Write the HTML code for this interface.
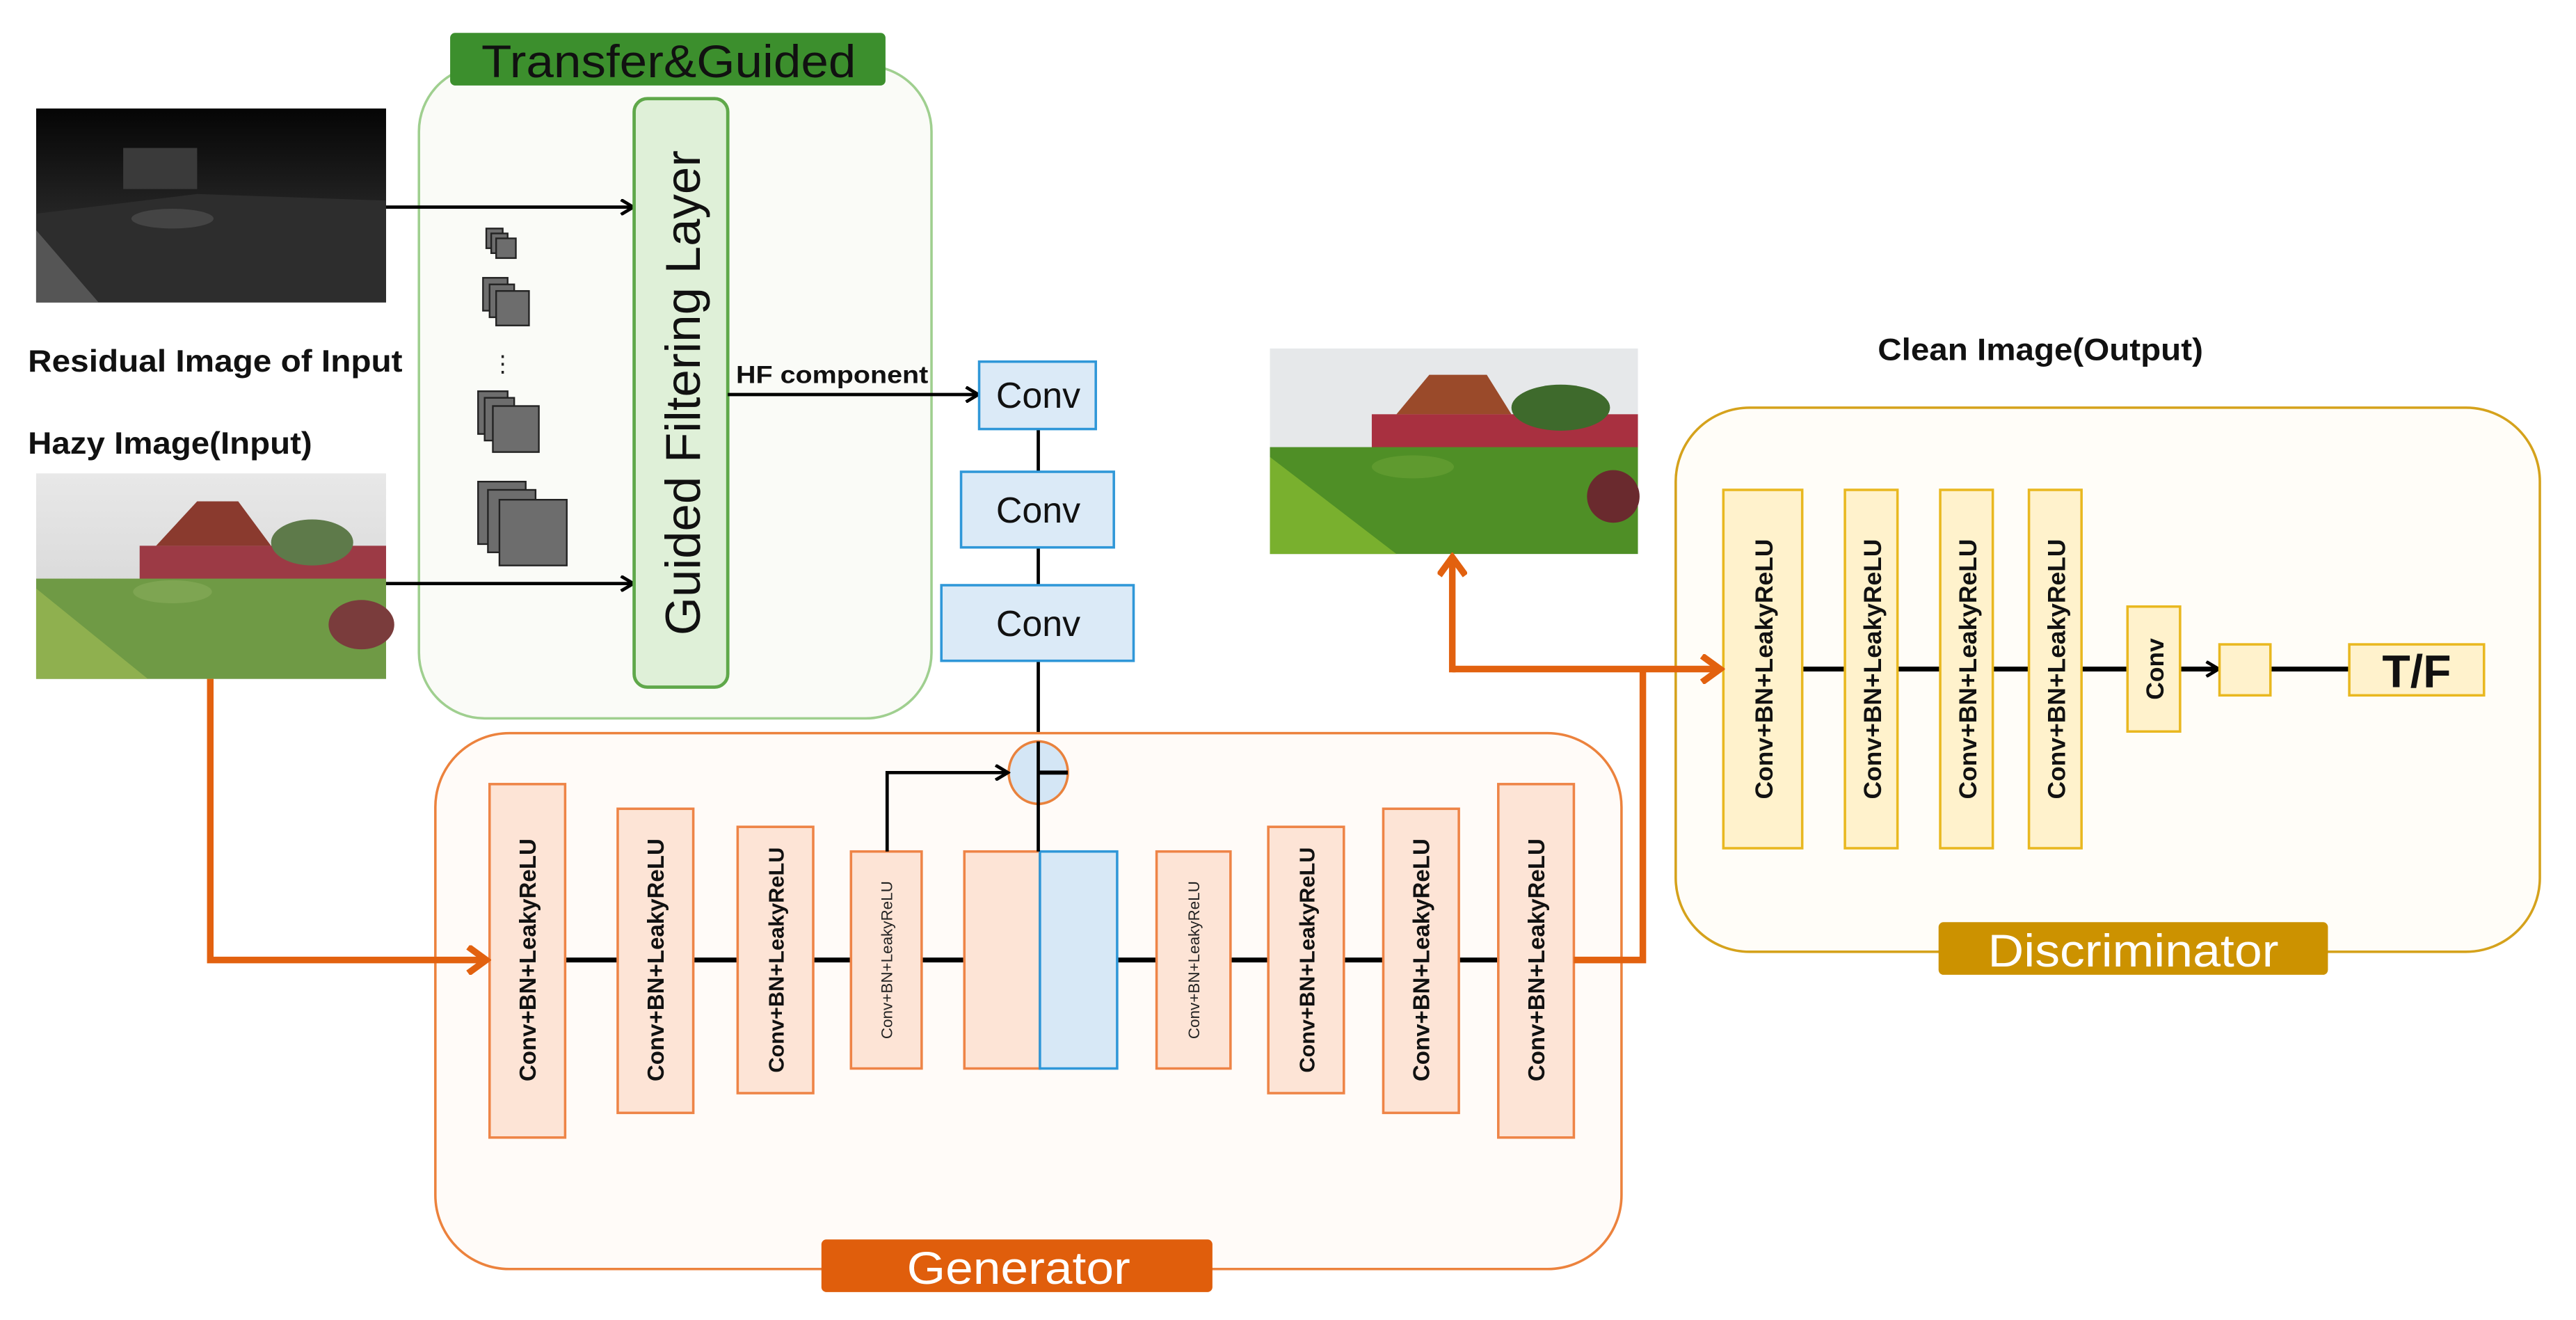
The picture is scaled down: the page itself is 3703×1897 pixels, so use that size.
<!DOCTYPE html>
<html><head><meta charset="utf-8"><style>html,body{margin:0;padding:0;background:#fff}svg{display:block}</style></head>
<body>
<svg width="3703" height="1897" viewBox="0 0 1568 803" preserveAspectRatio="none" xmlns="http://www.w3.org/2000/svg" font-family="Liberation Sans, Arial, sans-serif">
<defs>
<marker id="ab" markerWidth="10" markerHeight="10" refX="8" refY="5" orient="auto" markerUnits="userSpaceOnUse"><path d="M1,0.5 L8.5,5 L1,9.5" fill="none" stroke="#000" stroke-width="2"/></marker>
<marker id="ao" markerWidth="16" markerHeight="18" refX="13" refY="9" orient="auto" markerUnits="userSpaceOnUse"><path d="M2,1 L13,9 L2,17" fill="none" stroke="#e2610f" stroke-width="4"/></marker>
<linearGradient id="sky" x1="0" y1="0" x2="0" y2="1"><stop offset="0" stop-color="#e8e8e8"/><stop offset="1" stop-color="#cfcfcf"/></linearGradient>
<linearGradient id="res" x1="0" y1="0" x2="0" y2="1"><stop offset="0" stop-color="#050505"/><stop offset="0.5" stop-color="#222"/><stop offset="1" stop-color="#3a3a3a"/></linearGradient>
</defs>

<!-- Transfer&Guided panel -->
<rect x="255" y="40" width="312" height="397" rx="40" fill="#fafbf7" stroke="#9fcf8f" stroke-width="1.5"/>
<rect x="274" y="20" width="265" height="32" rx="3" fill="#3c8f2d"/>
<text x="293" y="47" font-size="28" textLength="228" lengthAdjust="spacingAndGlyphs" fill="#111">Transfer&amp;Guided</text>

<!-- residual image -->
<rect x="22" y="66" width="213" height="118" fill="url(#res)"/>
<path d="M22,130 L120,118 L235,122 L235,184 L22,184Z" fill="#2d2d2d"/>
<path d="M22,140 L60,184 L22,184Z" fill="#555"/>
<rect x="75" y="90" width="45" height="25" fill="#3a3a3a"/>
<ellipse cx="105" cy="133" rx="25" ry="6" fill="#444"/>
<text x="17" y="226" font-size="19" font-weight="bold" textLength="228" lengthAdjust="spacingAndGlyphs" fill="#111">Residual Image of Input</text>
<text x="17" y="276" font-size="19" font-weight="bold" textLength="173" lengthAdjust="spacingAndGlyphs" fill="#111">Hazy Image(Input)</text>

<!-- hazy image -->
<rect x="22" y="288" width="213" height="125" fill="url(#sky)"/>
<rect x="85" y="332" width="150" height="22" fill="#9c3a45"/>
<path d="M95,332 L120,305 L145,305 L165,332Z" fill="#8a3a2e"/>
<ellipse cx="190" cy="330" rx="25" ry="14" fill="#5e7a4a"/>
<rect x="22" y="352" width="213" height="61" fill="#6f9a45"/>
<path d="M22,358 L90,413 L22,413Z" fill="#8fb04f"/>
<ellipse cx="105" cy="360" rx="24" ry="7" fill="#7ea552"/>
<ellipse cx="220" cy="380" rx="20" ry="15" fill="#7a3c3c"/>

<line x1="235" y1="126" x2="385" y2="126" stroke="#000" stroke-width="2" marker-end="url(#ab)"/>
<line x1="235" y1="355" x2="385" y2="355" stroke="#000" stroke-width="2" marker-end="url(#ab)"/>

<g fill="#6d6d6d" stroke="#222" stroke-width="1">
<rect x="296" y="139" width="10" height="12"/><rect x="299" y="142" width="10" height="12"/><rect x="302" y="145" width="12" height="12"/>
<rect x="294" y="169" width="15" height="20"/><rect x="298" y="173" width="15" height="20"/><rect x="302" y="177" width="20" height="21"/>
<rect x="291" y="238" width="18" height="26"/><rect x="295" y="242" width="18" height="26"/><rect x="300" y="247" width="28" height="28"/>
<rect x="291" y="293" width="29" height="38"/><rect x="297" y="298" width="29" height="38"/><rect x="304" y="304" width="41" height="40"/>
</g>
<text x="306" y="226" font-size="14" text-anchor="middle" fill="#222">⋮</text>

<rect x="386" y="60" width="57" height="358" rx="8" fill="#dff0d8" stroke="#5fa84a" stroke-width="2"/>
<text transform="translate(426,239) rotate(-90)" font-size="30" text-anchor="middle" fill="#111">Guided Filtering Layer</text>

<text x="448" y="233" font-size="15" font-weight="bold" textLength="117" lengthAdjust="spacingAndGlyphs" fill="#111">HF component</text>
<line x1="443" y1="240" x2="595" y2="240" stroke="#000" stroke-width="2" marker-end="url(#ab)"/>

<line x1="632" y1="261" x2="632" y2="518" stroke="#000" stroke-width="2" marker-end="url(#ab)"/>
<g fill="#dbeaf7" stroke="#2f97d8" stroke-width="1.5">
<rect x="596" y="220" width="71" height="41"/>
<rect x="585" y="287" width="93" height="46"/>
<rect x="573" y="356" width="117" height="46"/>
</g>
<g font-size="22" text-anchor="middle" fill="#111">
<text x="632" y="248">Conv</text><text x="632" y="318">Conv</text><text x="632" y="387">Conv</text>
</g>

<!-- Generator panel -->
<rect x="265" y="446" width="722" height="326" rx="45" fill="#fffbf8" stroke="#ec823d" stroke-width="1.5"/>
<rect x="500" y="754" width="238" height="32" rx="3" fill="#e05e0c"/>
<text x="552" y="781" font-size="28" textLength="136" lengthAdjust="spacingAndGlyphs" fill="#fff">Generator</text>

<line x1="344" y1="584" x2="958" y2="584" stroke="#000" stroke-width="3"/>
<g fill="#fde4d6" stroke="#ee8447" stroke-width="1.5">
<rect x="298" y="477" width="46" height="215"/>
<rect x="376" y="492" width="46" height="185"/>
<rect x="449" y="503" width="46" height="162"/>
<rect x="518" y="518" width="43" height="132"/>
<rect x="587" y="518" width="46" height="132"/>
<rect x="704" y="518" width="45" height="132"/>
<rect x="772" y="503" width="46" height="162"/>
<rect x="842" y="492" width="46" height="185"/>
<rect x="912" y="477" width="46" height="215"/>
</g>
<rect x="633" y="518" width="47" height="132" fill="#d7e8f6" stroke="#2f97d8" stroke-width="1.5"/>
<g font-size="14" font-weight="bold" fill="#111" text-anchor="middle">
<text transform="translate(326,584) rotate(-90)">Conv+BN+LeakyReLU</text>
<text transform="translate(404,584) rotate(-90)">Conv+BN+LeakyReLU</text>
<text transform="translate(477,584) rotate(-90)" font-size="13">Conv+BN+LeakyReLU</text>
<text transform="translate(800,584) rotate(-90)" font-size="13">Conv+BN+LeakyReLU</text>
<text transform="translate(870,584) rotate(-90)">Conv+BN+LeakyReLU</text>
<text transform="translate(940,584) rotate(-90)">Conv+BN+LeakyReLU</text>
</g>
<g font-size="9.5" fill="#222" text-anchor="middle">
<text transform="translate(543,584) rotate(-90)">Conv+BN+LeakyReLU</text>
<text transform="translate(730,584) rotate(-90)">Conv+BN+LeakyReLU</text>
</g>

<ellipse cx="632" cy="470" rx="18" ry="19" fill="#d4e6f5" stroke="#e9823d" stroke-width="1.5"/>
<line x1="632" y1="451" x2="632" y2="518" stroke="#000" stroke-width="2"/>
<line x1="632" y1="470" x2="650" y2="470" stroke="#000" stroke-width="2.5"/>
<polyline points="540,518 540,470 613,470" fill="none" stroke="#000" stroke-width="2" marker-end="url(#ab)"/>

<!-- clean image -->
<rect x="773" y="212" width="224" height="125" fill="#e6e8ea"/>
<rect x="835" y="252" width="162" height="22" fill="#a83040"/>
<path d="M850,252 L870,228 L905,228 L920,252Z" fill="#9a4a2a"/>
<ellipse cx="950" cy="248" rx="30" ry="14" fill="#3e6a2c"/>
<rect x="773" y="272" width="224" height="65" fill="#4f8f26"/>
<path d="M773,278 L850,337 L773,337Z" fill="#79b02e"/>
<ellipse cx="860" cy="284" rx="25" ry="7" fill="#5f9a2f"/>
<ellipse cx="982" cy="302" rx="16" ry="16" fill="#6a2a2e"/>
<text x="1143" y="219" font-size="19" font-weight="bold" textLength="198" lengthAdjust="spacingAndGlyphs" fill="#111">Clean Image(Output)</text>

<!-- Discriminator panel -->
<rect x="1020" y="248" width="526" height="331" rx="45" fill="#fffdf8" stroke="#d5a21c" stroke-width="1.5"/>
<rect x="1180" y="561" width="237" height="32" rx="3" fill="#cc9200"/>
<text x="1210" y="588" font-size="28" textLength="177" lengthAdjust="spacingAndGlyphs" fill="#fff">Discriminator</text>
<line x1="1097" y1="407" x2="1350" y2="407" stroke="#000" stroke-width="3" marker-end="url(#ab)"/>
<line x1="1382" y1="407" x2="1430" y2="407" stroke="#000" stroke-width="3"/>
<g fill="#fff2cc" stroke="#e9b820" stroke-width="1.5">
<rect x="1049" y="298" width="48" height="218"/>
<rect x="1123" y="298" width="32" height="218"/>
<rect x="1181" y="298" width="32" height="218"/>
<rect x="1235" y="298" width="32" height="218"/>
<rect x="1295" y="369" width="32" height="76"/>
<rect x="1351" y="392" width="31" height="31"/>
<rect x="1430" y="392" width="82" height="31"/>
</g>
<g font-size="15" font-weight="bold" fill="#111" text-anchor="middle">
<text transform="translate(1079,407) rotate(-90)">Conv+BN+LeakyReLU</text>
<text transform="translate(1145,407) rotate(-90)">Conv+BN+LeakyReLU</text>
<text transform="translate(1203,407) rotate(-90)">Conv+BN+LeakyReLU</text>
<text transform="translate(1257,407) rotate(-90)">Conv+BN+LeakyReLU</text>
<text transform="translate(1317,407) rotate(-90)">Conv</text>
</g>
<text x="1471" y="418" font-size="28" font-weight="bold" text-anchor="middle" fill="#111">T/F</text>

<!-- orange connectors (on top) -->
<polyline points="128,413 128,584 296,584" fill="none" stroke="#e2610f" stroke-width="4" marker-end="url(#ao)"/>
<polyline points="958,584 1000,584 1000,407" fill="none" stroke="#e2610f" stroke-width="4"/>
<line x1="884" y1="407" x2="1047" y2="407" stroke="#e2610f" stroke-width="4" marker-end="url(#ao)"/>
<line x1="884" y1="409" x2="884" y2="339" stroke="#e2610f" stroke-width="4" marker-end="url(#ao)"/>
</svg>
</body></html>
